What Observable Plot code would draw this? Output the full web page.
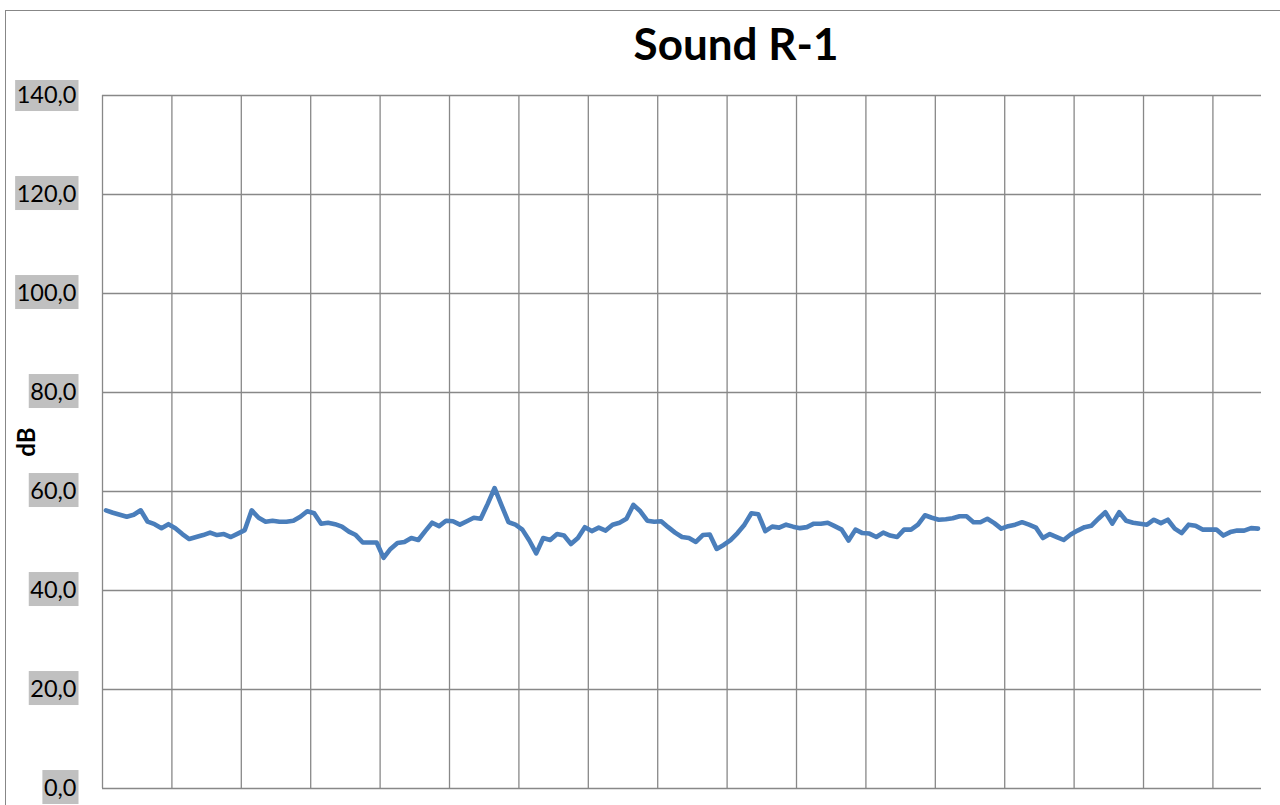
<!DOCTYPE html>
<html>
<head>
<meta charset="utf-8">
<script src="https://cdn.jsdelivr.net/npm/d3@7"></script>
<script src="https://cdn.jsdelivr.net/npm/@observablehq/plot@0.6"></script>
<style>
  html, body { margin: 0; padding: 0; background: #fff; overflow: hidden; }
  #page { position: relative; width: 1280px; height: 805px; overflow: hidden; }
  #frame { position: absolute; left: 5px; top: 10px; width: 1600px; height: 1000px;
           border: 1.3px solid #878787; pointer-events: none; z-index: 3; }
  #title { position: absolute; left: 0; top: 21px; width: 1472px; text-align: center;
           font-family: Lato, sans-serif; font-weight: bold; font-size: 44px; line-height: 44px; color: #000; }
  #chart { position: absolute; left: 0; top: 80px; }
</style>
</head>
<body>
<div id="page">
  <div id="title">Sound R-1</div>
  <div id="chart"></div>
  <div id="frame"></div>
</div>
<script>
const chartTitle = "Sound R-1";
const yLabel = "dB";
const yTicks = [0, 20, 40, 60, 80, 100, 120, 140];
const gridEvery = 10;
const values = [
  56.2, 55.7, 55.3, 54.9, 55.3, 56.2, 53.9, 53.4, 52.6, 53.4,
  52.6, 51.4, 50.4, 50.8, 51.2, 51.7, 51.2, 51.4, 50.8, 51.5,
  52.2, 56.2, 54.7, 53.9, 54.1, 53.9, 53.9, 54.1, 54.9, 56.0,
  55.6, 53.5, 53.7, 53.4, 52.9, 51.9, 51.2, 49.7, 49.7, 49.7,
  46.6, 48.4, 49.6, 49.8, 50.6, 50.2, 52.0, 53.7, 53.0, 54.1,
  54.0, 53.3, 54.0, 54.7, 54.5, 57.5, 60.7, 57.2, 53.8, 53.3,
  52.3, 50.1, 47.5, 50.6, 50.2, 51.4, 51.1, 49.4, 50.6, 52.8,
  52.0, 52.7, 52.1, 53.3, 53.7, 54.5, 57.3, 56.0, 54.1, 53.9,
  54.0, 52.8, 51.7, 50.8, 50.6, 49.8, 51.2, 51.3, 48.4, 49.2,
  50.2, 51.6, 53.3, 55.6, 55.4, 52.0, 52.9, 52.7, 53.3, 52.9,
  52.6, 52.8, 53.5, 53.5, 53.7, 53.0, 52.3, 50.1, 52.3, 51.6,
  51.5, 50.8, 51.7, 51.1, 50.8, 52.3, 52.3, 53.3, 55.2, 54.7,
  54.3, 54.4, 54.6, 55.0, 55.0, 53.8, 53.8, 54.5, 53.6, 52.5,
  53.0, 53.3, 53.8, 53.3, 52.7, 50.6, 51.4, 50.8, 50.2, 51.3,
  52.1, 52.8, 53.1, 54.5, 55.8, 53.5, 55.8, 54.1, 53.7, 53.5,
  53.3, 54.3, 53.6, 54.3, 52.5, 51.6, 53.3, 53.1, 52.3, 52.3,
  52.3, 51.1, 51.8, 52.1, 52.1, 52.6, 52.5
];

document.getElementById("title").textContent = chartTitle;

const data = values.map((v, i) => ({i, v}));
const n = values.length;
// category boundaries (Excel-style gridlines between categories)
const xGrid = [-0.5].concat(d3.range(gridEvery, n, gridEvery).map(d => d - 0.5));
const gridColor = "#888888";

const plot = Plot.plot({
  width: 1280,
  height: 725,
  marginTop: 15,
  marginBottom: 17,
  marginLeft: 102,
  marginRight: 19,
  style: {fontFamily: "Lato, sans-serif", fontSize: "23px", color: "#000", background: "transparent"},
  x: {domain: [-0.5, n - 0.5], axis: null},
  y: {domain: [0, 140]},
  marks: [
    Plot.ruleY(yTicks, {stroke: gridColor, strokeWidth: 1.3}),
    Plot.ruleX(xGrid, {stroke: gridColor, strokeWidth: 1.3}),
    Plot.lineY(data, {x: "i", y: "v", stroke: "#4a7ebb", strokeWidth: 4.6, strokeLinejoin: "round", strokeLinecap: "round"}),
    Plot.axisY({ticks: yTicks, tickSize: 0, tickPadding: 26, label: null, fontSize: 23.5,
                tickFormat: d => d.toFixed(1).replace(".", ",")}),
    Plot.text([yLabel], {frameAnchor: "left", dx: -75, rotate: -90, textAnchor: "middle", lineAnchor: "middle",
                         fontWeight: "bold", fontSize: 24, fill: "#000"})
  ]
});
document.getElementById("chart").appendChild(plot);

// grey background boxes behind the y tick labels
d3.select(plot).selectAll('g[aria-label="y-axis tick label"] text').each(function() {
  const b = this.getBBox();
  const cy = b.y + b.height / 2;
  const r = document.createElementNS("http://www.w3.org/2000/svg", "rect");
  r.setAttribute("x", b.x - 1.5);
  r.setAttribute("y", cy - 17);
  r.setAttribute("width", b.width + 3.5);
  r.setAttribute("height", 34);
  r.setAttribute("fill", "#c0c0c0");
  const t = this.getAttribute("transform");
  if (t) r.setAttribute("transform", t);
  this.parentNode.insertBefore(r, this);
});
</script>
</body>
</html>
